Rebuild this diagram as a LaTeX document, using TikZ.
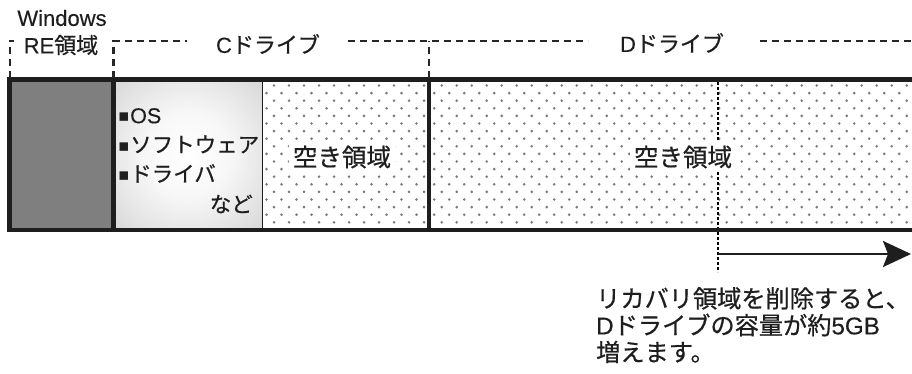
\documentclass[tikz,border=0pt]{standalone}
\usepackage{fontspec}
\setmainfont{Noto Sans CJK JP}[FakeBold=0.6]
\newfontfamily\jp{Noto Sans CJK JP}[FakeBold=0.6]
\newfontfamily\lat{Liberation Sans}[FakeBold=0.25]
\newfontfamily\symf{DejaVu Sans}
\usetikzlibrary{arrows.meta}
\definecolor{txt}{HTML}{1E1E1E}
\definecolor{dotc}{HTML}{7A7A7A}
\definecolor{reg}{HTML}{7F7F7F}
\definecolor{dsh}{HTML}{262626}
\pgfdeclareradialshading{cshade}{\pgfpoint{0bp}{0bp}}{color(0bp)=(white); color(14bp)=(black!3); color(50bp)=(black!24); color(71bp)=(black!42)}
\tikzset{
  thickline/.style={line width=4.5pt, draw=txt},
  topdash/.style={draw=dsh, line width=2.8pt, dash pattern=on 7pt off 5pt},
  finedash/.style={draw=black, line width=1.3pt, dash pattern=on 3pt off 2pt},
  lbl/.style={text=txt, inner sep=0pt, font=\fontsize{22}{26}\selectfont\jp},
  freelbl/.style={text=txt, fill=white, inner sep=4pt, font=\fontsize{24.5}{28}\selectfont\jp},
  bul/.style={text=txt, inner sep=0pt, font=\fontsize{21.5}{29.3}\selectfont\jp, align=left},
  note/.style={text=txt, inner sep=0pt, font=\fontsize{24.2}{26.8}\selectfont\jp, align=left},
}
\newcommand{\sq}{{\symf\fontsize{17}{17}\selectfont\raisebox{1.5pt}{▪}}\hspace{0.5pt}}
\begin{document}
\begin{tikzpicture}[x=1pt,y=-1pt]
\path[use as bounding box] (0,0) rectangle (912,374);

% regions
\fill[reg] (9.5,79.5) rectangle (113.5,230);
\shade[shading=cshade] (113.5,79.5) rectangle (262,230);

% dots: C free space
\begin{scope}
\clip (262.5,82) rectangle (427,228);
\foreach \r in {0,...,19}{
  \pgfmathsetmacro\yy{85.5+7.6*\r}
  \pgfmathsetmacro\off{mod(\r,2)*7.5}
  \foreach \c in {0,...,12}{
    \fill[dotc] (259+\off+15*\c,\yy) circle (1.45pt);
  }
}
\end{scope}
% dots: D free space
\begin{scope}
\clip (431,82) rectangle (912,228);
\foreach \r in {0,...,19}{
  \pgfmathsetmacro\yy{85.5+7.6*\r}
  \pgfmathsetmacro\off{mod(\r,2)*7.5}
  \foreach \c in {0,...,33}{
    \fill[dotc] (426.7+\off+15*\c,\yy) circle (1.45pt);
  }
}
\end{scope}

\draw[line width=1pt, draw=txt] (262,79.5) -- (262,230);

% dashed marker in D
\coordinate (mtop) at (718,82);
\coordinate (mbot) at (718,272);
\draw[finedash] (mtop) -- (mbot);

% free space labels
\node[freelbl] (cfree) at (342,157) {空き領域};
\node[freelbl] (dfree) at (683,157) {空き領域};

% borders
\coordinate (tl) at (9.5,79.5);
\coordinate (bl) at (9.5,230);
\coordinate (tr) at (912,79.5);
\coordinate (br) at (912,230);
\draw[thickline] (tr) -- (tl) -- (bl) -- (br);
\draw[thickline] (113.5,79.5) -- (113.5,230);
\draw[thickline] (429,79.5) -- (429,230);

% list in C
\node[bul, anchor=north west] (list) at (118,108) {\sq{\lat OS}\\\sq ソフトウェア\\\sq ドライバ};
\node[bul, anchor=east] (etc) at (253,204) {など};

% top labels
\node[lbl] (win) at (62,18) {\lat Windows};
\node[lbl] (re) at (61,45) {{\lat RE}領域};
\node[lbl] (cdrv) at (268,44) {{\lat C}ドライブ};
\node[lbl] (ddrv) at (672,43) {{\lat D}ドライブ};

% top dashed brackets
\coordinate (a1) at (10,78);
\coordinate (a2) at (10,41);
\coordinate (a3) at (14,41);
\draw[topdash] (a1) -- (a2) -- (a3);
\coordinate (b1) at (113.5,78);
\coordinate (b2) at (113.5,41);
\coordinate (b3) at (187,41);
\draw[topdash] (b1) -- (b2) -- (b3);
\coordinate (c0) at (348,41);
\coordinate (c3) at (588,41);
\draw[topdash] (c0) -- (c3);
\coordinate (c1) at (429,78);
\coordinate (c2) at (429,41);
\draw[topdash] (c1) -- (c2);
\coordinate (d0) at (760,41);
\coordinate (d1) at (912,41);
\draw[topdash] (d0) -- (d1);

% arrow
\coordinate (arrS) at (718,254);
\coordinate (arrE) at (911,254);
\draw[draw=txt, line width=2.2pt, -{Stealth[length=28pt, width=26pt, inset=5pt]}] (arrS) -- (arrE);

% note
\node[note, anchor=north west] (note) at (596,287) {リカバリ領域を削除すると、\\{\lat D}ドライブの容量が約{\lat 5GB}\\増えます。};
\end{tikzpicture}
\end{document}
